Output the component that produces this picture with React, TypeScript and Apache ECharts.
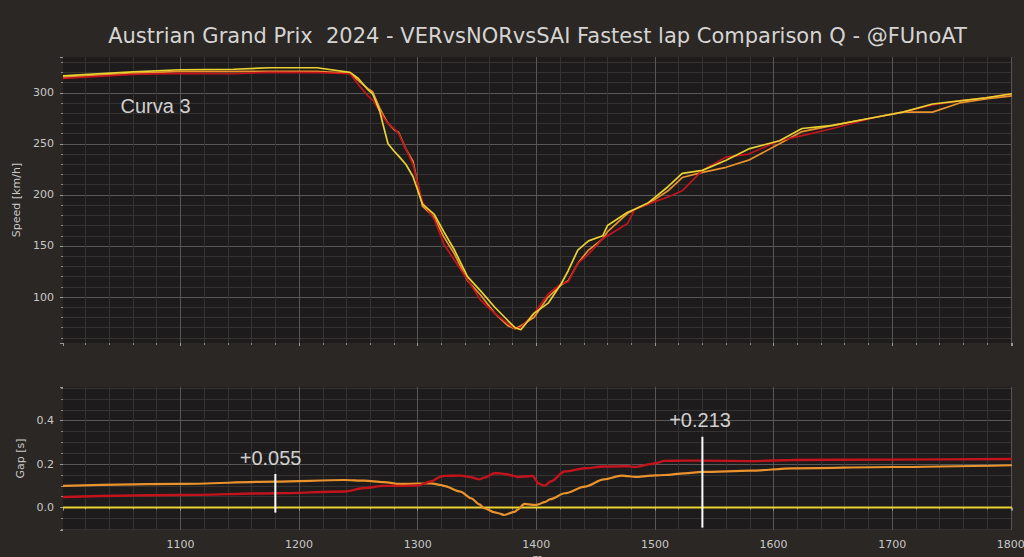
import React, { useEffect, useRef } from "react";
import * as echarts from "echarts";

// ---------- Speed traces (top panel) ----------
const speedDist = [1001, 1030, 1060, 1100, 1145, 1175, 1215, 1243, 1250, 1258, 1262, 1268, 1271, 1275, 1280, 1284, 1290, 1296, 1304, 1314, 1322, 1331, 1342, 1353, 1365, 1376, 1382, 1387, 1398, 1410, 1421, 1427, 1435, 1444, 1456, 1460, 1477, 1483, 1494, 1511, 1523, 1540, 1560, 1579, 1605, 1624, 1650, 1686, 1709, 1734, 1757, 1779, 1801];
const speedVER = [316.5, 318.5, 320.5, 322.5, 323, 324.5, 324.5, 320, 314, 303, 299, 282, 268, 250, 243, 238, 230, 218, 191, 181, 164, 146, 120, 106, 90, 77, 70, 68, 84, 94, 113, 126, 146, 155, 160, 170, 183, 186, 192, 208, 221, 224, 234, 245, 253, 265, 268, 276, 281, 289, 292, 295, 299];
const speedNOR = [315, 317, 319, 321, 321, 321, 321, 319, 312, 304, 301, 285, 278, 270, 264, 261, 245, 233, 189, 178, 159, 142, 116, 102, 84, 72, 69, 72, 80, 100, 112, 116, 133, 146, 157, 164, 182, 186, 191, 204, 217, 222, 227, 234, 250, 262, 268, 276, 281, 281, 290, 294, 297];
const speedSAI = [314, 316, 318, 319, 318.6, 320, 319.7, 318.6, 308, 297, 293, 282, 276, 270, 265, 260, 245, 230, 193, 176, 152, 136, 117, 97, 84, 74, 69, 70, 84, 103, 113, 115, 133, 142, 157, 160, 172, 186, 191, 198, 204, 224, 237, 240, 253, 258, 265, 276, 281, 288, 292, 295, 299];

// ---------- Gap traces (bottom panel) ----------
const gapDist = [1001, 1100, 1180, 1238, 1255, 1271, 1286, 1300, 1311, 1320, 1322, 1336, 1345, 1352, 1356, 1365, 1368, 1373, 1382, 1384, 1390, 1397, 1400, 1401, 1407, 1412, 1424, 1441, 1457, 1472, 1477, 1483, 1497, 1500, 1508, 1525, 1540, 1581, 1616, 1700, 1801];
const gapNOR = [0.1, 0.109, 0.12, 0.127, 0.124, 0.117, 0.109, 0.11, 0.112, 0.104, 0.1, 0.074, 0.043, 0.015, -0.003, -0.022, -0.026, -0.034, -0.018, -0.01, 0.017, 0.013, 0.012, 0.014, 0.025, 0.039, 0.066, 0.097, 0.13, 0.147, 0.145, 0.141, 0.147, 0.148, 0.15, 0.158, 0.164, 0.17, 0.181, 0.187, 0.195];
const gapSAI = [0.049, 0.058, 0.066, 0.074, 0.09, 0.1, 0.1, 0.102, 0.12, 0.143, 0.146, 0.147, 0.14, 0.13, 0.138, 0.158, 0.158, 0.155, 0.145, 0.141, 0.143, 0.146, 0.125, 0.112, 0.101, 0.12, 0.166, 0.181, 0.189, 0.19, 0.19, 0.187, 0.2, 0.204, 0.215, 0.216, 0.216, 0.214, 0.219, 0.221, 0.224];
const gapVERDist = [1001, 1801];
const gapVER = [0, 0];

// ---------- Annotations ----------
const markerDist = [1180, 1540];
const markerTop = [0.155, 0.326];
const markerBottom = [-0.023, -0.092];
const markerLabels = ["+0.055", "+0.213"];
const markerLabelDist = [1176, 1538];
const markerLabelGap = [0.2285, 0.403];
const cornerLabel = "Curva 3";
const cornerLabelPos = [1079, 287];

const TITLE = "Austrian Grand Prix  2024 - VERvsNORvsSAI Fastest lap Comparison Q - @FUnoAT";

const COLOR_VER = "#e8d232";
const COLOR_NOR = "#ea922c";
const COLOR_SAI = "#c3141e";

const labelColor = "#c9c7c5";
const axisFont = "DejaVu Sans";

function axisBase(extra: any) {
  return {
    axisLine: { show: false },
    axisTick: { show: true, length: 3, lineStyle: { color: "#9a9896", width: 1 } },
    minorTick: { show: true, splitNumber: 5, length: 2, lineStyle: { color: "#8a8886", width: 1 } },
    splitLine: { show: true, showMinLine: false, showMaxLine: false, lineStyle: { color: "#595755", width: 1 } },
    minorSplitLine: { show: true, lineStyle: { color: "#353332", width: 1 } },
    axisLabel: {
      color: labelColor,
      fontSize: 11,
      fontFamily: axisFont,
      showMinLabel: false,
      showMaxLabel: false,
      margin: 9,
      formatter: (v: number) => String(v),
    },
    ...extra,
  };
}

export default function App() {
  const ref = useRef<HTMLDivElement>(null);
  useEffect(() => {
    if (!ref.current) return;
    const chart = echarts.init(ref.current, undefined, { renderer: "svg" });
    const pair = (xs: number[], ys: number[]) => xs.map((x, i) => [x, ys[i]]);
    const speedLine = (name: string, ys: number[], color: string) => ({
      name,
      type: "line",
      xAxisIndex: 0,
      yAxisIndex: 0,
      data: pair(speedDist, ys),
      symbol: "none",
      lineStyle: { color, width: 1.7 },
      itemStyle: { color },
      z: 3,
    });
    const gapLine = (name: string, xs: number[], ys: number[], color: string, w: number) => ({
      name,
      type: "line",
      xAxisIndex: 1,
      yAxisIndex: 1,
      data: pair(xs, ys),
      symbol: "none",
      smooth: 0.3,
      smoothMonotone: "x",
      lineStyle: { color, width: w },
      itemStyle: { color },
      z: 3,
    });
    const option: any = {
      animation: false,
      backgroundColor: "#2a2725",
      graphic: [
        {
          type: "text",
          x: 537.5,
          y: 36,
          style: {
            text: TITLE,
            fill: "#d6d4d2",
            font: "21px 'DejaVu Sans'",
            align: "center",
            verticalAlign: "middle",
          },
        },
      ],
      grid: [
        { left: 63, right: 12, top: 57, height: 286, show: true, backgroundColor: "#1d1b1b", borderWidth: 0, outerBoundsMode: "none", containLabel: false },
        { left: 63, right: 12, top: 387, height: 143, show: true, backgroundColor: "#1d1b1b", borderWidth: 0, outerBoundsMode: "none", containLabel: false },
      ],
      xAxis: [
        axisBase({
          type: "value",
          gridIndex: 0,
          min: 1001,
          max: 1801,
          splitNumber: 8,
          axisLabel: { show: false },
        }),
        axisBase({
          type: "value",
          gridIndex: 1,
          min: 1001,
          max: 1801,
          splitNumber: 8,
          name: "m",
          nameLocation: "middle",
          nameGap: 23,
          nameTextStyle: { color: labelColor, fontSize: 11, fontFamily: axisFont },
        }),
      ],
      yAxis: [
        axisBase({
          type: "value",
          gridIndex: 0,
          min: 55,
          max: 335,
          splitNumber: 5,
          name: "Speed [km/h]",
          nameLocation: "middle",
          nameGap: 30,
          nameTextStyle: { color: labelColor, fontSize: 11, fontFamily: axisFont },
        }),
        axisBase({
          type: "value",
          gridIndex: 1,
          min: -0.103,
          max: 0.555,
          splitNumber: 3,
          minorTick: { show: true, splitNumber: 4, length: 2, lineStyle: { color: "#8a8886", width: 1 } },
          axisLabel: {
            color: labelColor,
            fontSize: 11,
            fontFamily: axisFont,
            showMinLabel: false,
            showMaxLabel: false,
            margin: 9,
            formatter: (v: number) => v.toFixed(1),
          },
          name: "Gap [s]",
          nameLocation: "middle",
          nameGap: 30,
          nameTextStyle: { color: labelColor, fontSize: 11, fontFamily: axisFont },
        }),
      ],
      series: [
        speedLine("NOR", speedNOR, COLOR_NOR),
        speedLine("SAI", speedSAI, COLOR_SAI),
        speedLine("VER", speedVER, COLOR_VER),
        {
          type: "scatter",
          xAxisIndex: 0,
          yAxisIndex: 0,
          data: [cornerLabelPos],
          symbolSize: 1,
          itemStyle: { color: "rgba(0,0,0,0)" },
          silent: true,
          label: {
            show: true,
            position: "inside",
            formatter: () => cornerLabel,
            color: "#ffffff",
            fontSize: 20,
            fontFamily: "Liberation Sans",
          },
          z: 5,
        },
        gapLine("VER", gapVERDist, gapVER, COLOR_VER, 2),
        gapLine("NOR", gapDist, gapNOR, COLOR_NOR, 2.2),
        gapLine("SAI", gapDist, gapSAI, COLOR_SAI, 2.4),
        ...markerDist.map((d, i) => ({
          type: "line",
          xAxisIndex: 1,
          yAxisIndex: 1,
          data: [
            [d, markerBottom[i]],
            [d, markerTop[i]],
          ],
          symbol: "none",
          lineStyle: { color: "#ffffff", width: 2 },
          silent: true,
          z: 6,
        })),
        {
          type: "scatter",
          xAxisIndex: 1,
          yAxisIndex: 1,
          data: markerLabelDist.map((d, i) => [d, markerLabelGap[i], markerLabels[i]]),
          symbolSize: 1,
          itemStyle: { color: "rgba(0,0,0,0)" },
          silent: true,
          label: {
            show: true,
            position: "inside",
            formatter: (p: any) => p.data[2],
            color: "#ffffff",
            fontSize: 20,
            fontFamily: "Liberation Sans",
          },
          z: 6,
        },
      ],
    };
    chart.setOption(option);
    return () => chart.dispose();
  }, []);
  return (
    <div
      ref={ref}
      style={{ position: "fixed", left: 0, top: 0, width: 1024, height: 557 }}
    />
  );
}
